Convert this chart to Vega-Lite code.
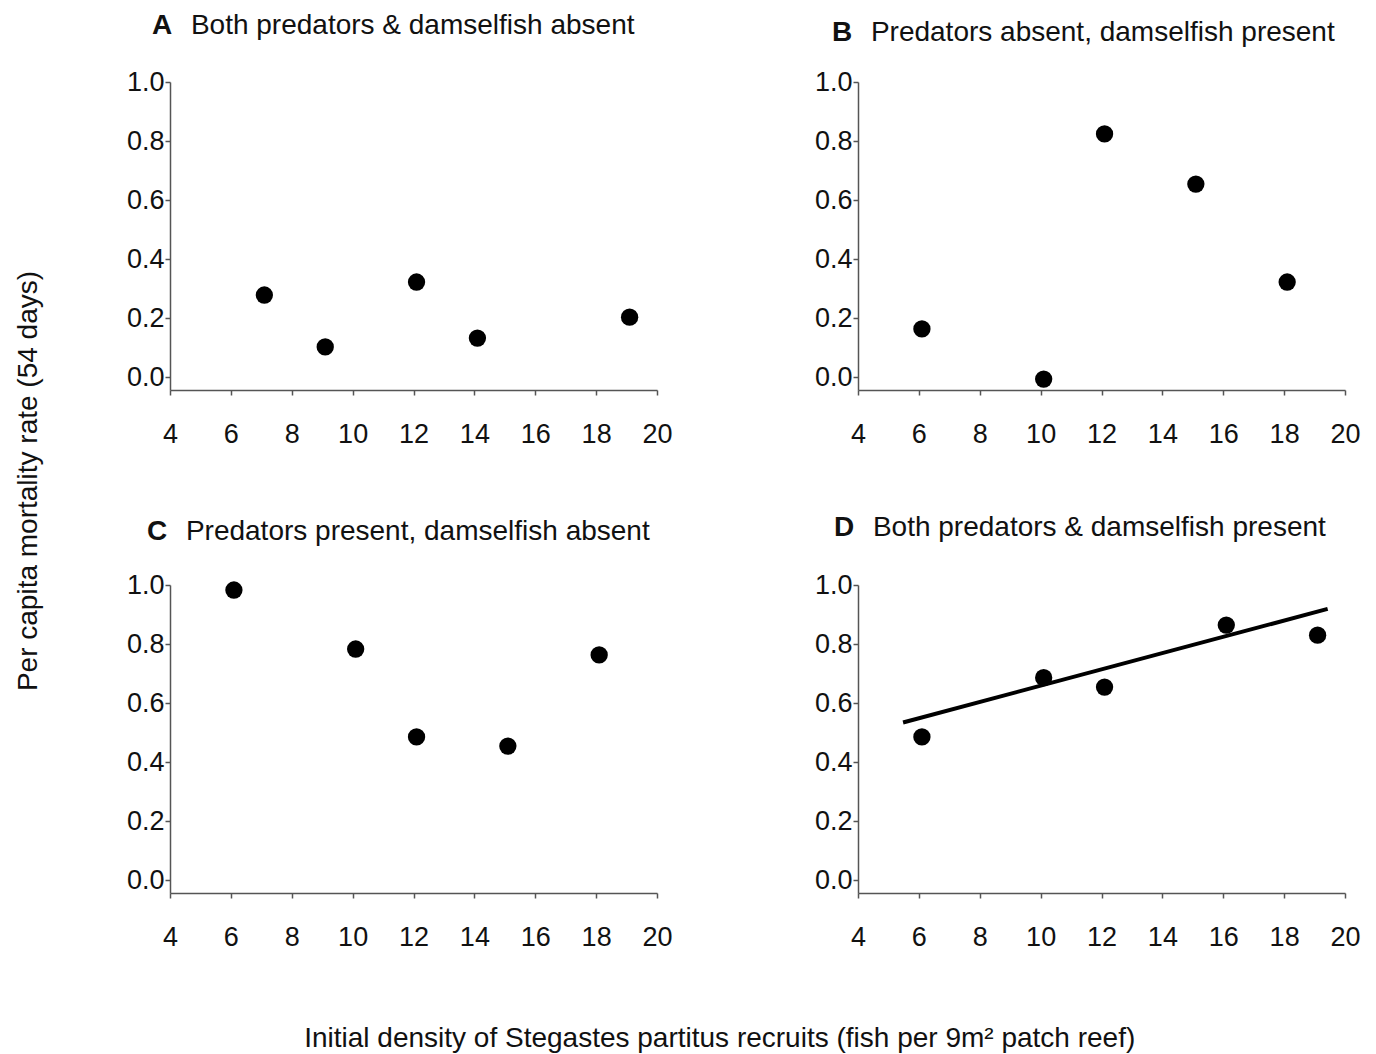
{
  "$schema": "https://vega.github.io/schema/vega-lite/v6.json",
  "background": "white",
  "padding": {"left": 15, "top": 12, "right": 10, "bottom": 0},
  "config": {
    "font": "Liberation Sans",
    "view": {"stroke": null},
    "axis": {
      "grid": false,
      "domainColor": "#555",
      "domainWidth": 1.5,
      "tickColor": "#555",
      "tickWidth": 1.5,
      "tickSize": 5,
      "labelFont": "Liberation Sans",
      "labelFontSize": 27,
      "labelColor": "#111",
      "labelFlush": false,
      "labelOverlap": false,
      "title": null
    },
    "axisX": {"labelPadding": 26},
    "axisY": {"labelPadding": 1},
    "title": {
      "font": "Liberation Sans",
      "fontSize": 28,
      "fontWeight": "bold",
      "color": "#111",
      "subtitleFont": "Liberation Sans",
      "subtitleFontSize": 28,
      "subtitleColor": "#111",
      "subtitleFontWeight": "normal",
      "subtitlePadding": -28,
      "anchor": "start",
      "frame": "group"
    }
  },
  "datasets": {
    "points": [
      {"panel": "A", "density": 7.1, "mortality": 0.278},
      {"panel": "A", "density": 9.1, "mortality": 0.102},
      {"panel": "A", "density": 12.1, "mortality": 0.322},
      {"panel": "A", "density": 14.1, "mortality": 0.132},
      {"panel": "A", "density": 19.1, "mortality": 0.203},
      {"panel": "B", "density": 6.1, "mortality": 0.163},
      {"panel": "B", "density": 10.1, "mortality": -0.007},
      {"panel": "B", "density": 12.1, "mortality": 0.824},
      {"panel": "B", "density": 15.1, "mortality": 0.654},
      {"panel": "B", "density": 18.1, "mortality": 0.322},
      {"panel": "C", "density": 6.1, "mortality": 0.983},
      {"panel": "C", "density": 10.1, "mortality": 0.783},
      {"panel": "C", "density": 12.1, "mortality": 0.485},
      {"panel": "C", "density": 15.1, "mortality": 0.454},
      {"panel": "C", "density": 18.1, "mortality": 0.763},
      {"panel": "D", "density": 6.1, "mortality": 0.485},
      {"panel": "D", "density": 10.1, "mortality": 0.686},
      {"panel": "D", "density": 12.1, "mortality": 0.654},
      {"panel": "D", "density": 16.1, "mortality": 0.864},
      {"panel": "D", "density": 19.1, "mortality": 0.83}
    ],
    "fit": [
      {"density": 5.48, "mortality": 0.534},
      {"density": 19.43, "mortality": 0.919}
    ]
  },
  "title": {
    "text": "Initial density of Stegastes partitus recruits (fish per 9m² patch reef)",
    "orient": "bottom",
    "anchor": "middle",
    "frame": "bounds",
    "fontWeight": "normal",
    "fontSize": 28,
    "offset": 75,
    "dx": 32
  },
  "vconcat": [
    {
      "title": {
        "text": "Per capita mortality rate (54 days)",
        "orient": "left",
        "anchor": "middle",
        "frame": "bounds",
        "fontWeight": "normal",
        "fontSize": 28,
        "offset": 83
      },
      "spacing": 67,
      "vconcat": [
        {
          "spacing": 141,
          "hconcat": [
            {
              "width": 487,
              "height": 308,
              "title": {"text": "A", "subtitle": "\u200b\u00a0\u00a0\u00a0\u00a0\u00a0Both predators & damselfish absent", "dx": -18, "offset": 28},
              "data": {"name": "points"},
              "transform": [{"filter": "datum.panel === 'A'"}],
              "mark": {"type": "circle", "size": 300, "color": "black", "opacity": 1},
              "encoding": {
                "x": {"field": "density", "type": "quantitative", "scale": {"domain": [4, 20], "nice": false, "zero": false}, "axis": {"values": [4, 6, 8, 10, 12, 14, 16, 18, 20]}},
                "y": {"field": "mortality", "type": "quantitative", "scale": {"domain": [-0.044, 1.0], "nice": false, "zero": false}, "axis": {"values": [0, 0.2, 0.4, 0.6, 0.8, 1.0], "format": ".1f"}}
              }
            },
            {
              "width": 487,
              "height": 308,
              "title": {"text": "B", "subtitle": "\u200b\u00a0\u00a0\u00a0\u00a0\u00a0Predators absent, damselfish present", "dx": -26, "offset": 21},
              "data": {"name": "points"},
              "transform": [{"filter": "datum.panel === 'B'"}],
              "mark": {"type": "circle", "size": 300, "color": "black", "opacity": 1},
              "encoding": {
                "x": {"field": "density", "type": "quantitative", "scale": {"domain": [4, 20], "nice": false, "zero": false}, "axis": {"values": [4, 6, 8, 10, 12, 14, 16, 18, 20]}},
                "y": {"field": "mortality", "type": "quantitative", "scale": {"domain": [-0.044, 1.0], "nice": false, "zero": false}, "axis": {"values": [0, 0.2, 0.4, 0.6, 0.8, 1.0], "format": ".1f"}}
              }
            }
          ]
        },
        {
          "spacing": 141,
          "hconcat": [
            {
              "width": 487,
              "height": 308,
              "title": {"text": "C", "subtitle": "\u200b\u00a0\u00a0\u00a0\u00a0\u00a0Predators present, damselfish absent", "dx": -23, "offset": 25},
              "data": {"name": "points"},
              "transform": [{"filter": "datum.panel === 'C'"}],
              "mark": {"type": "circle", "size": 300, "color": "black", "opacity": 1},
              "encoding": {
                "x": {"field": "density", "type": "quantitative", "scale": {"domain": [4, 20], "nice": false, "zero": false}, "axis": {"values": [4, 6, 8, 10, 12, 14, 16, 18, 20]}},
                "y": {"field": "mortality", "type": "quantitative", "scale": {"domain": [-0.044, 1.0], "nice": false, "zero": false}, "axis": {"values": [0, 0.2, 0.4, 0.6, 0.8, 1.0], "format": ".1f"}}
              }
            },
            {
              "width": 487,
              "height": 308,
              "title": {"text": "D", "subtitle": "\u200b\u00a0\u00a0\u00a0\u00a0\u00a0Both predators & damselfish present", "dx": -24, "offset": 29},
              "layer": [
                {
                  "data": {"name": "fit"},
                  "mark": {"type": "line", "color": "black", "strokeWidth": 4},
                  "encoding": {
                    "x": {"field": "density", "type": "quantitative"},
                    "y": {"field": "mortality", "type": "quantitative"}
                  }
                },
                {
                  "data": {"name": "points"},
                  "transform": [{"filter": "datum.panel === 'D'"}],
                  "mark": {"type": "circle", "size": 300, "color": "black", "opacity": 1},
                  "encoding": {
                    "x": {"field": "density", "type": "quantitative", "scale": {"domain": [4, 20], "nice": false, "zero": false}, "axis": {"values": [4, 6, 8, 10, 12, 14, 16, 18, 20]}},
                    "y": {"field": "mortality", "type": "quantitative", "scale": {"domain": [-0.044, 1.0], "nice": false, "zero": false}, "axis": {"values": [0, 0.2, 0.4, 0.6, 0.8, 1.0], "format": ".1f"}}
                  }
                }
              ]
            }
          ]
        }
      ]
    }
  ]
}
